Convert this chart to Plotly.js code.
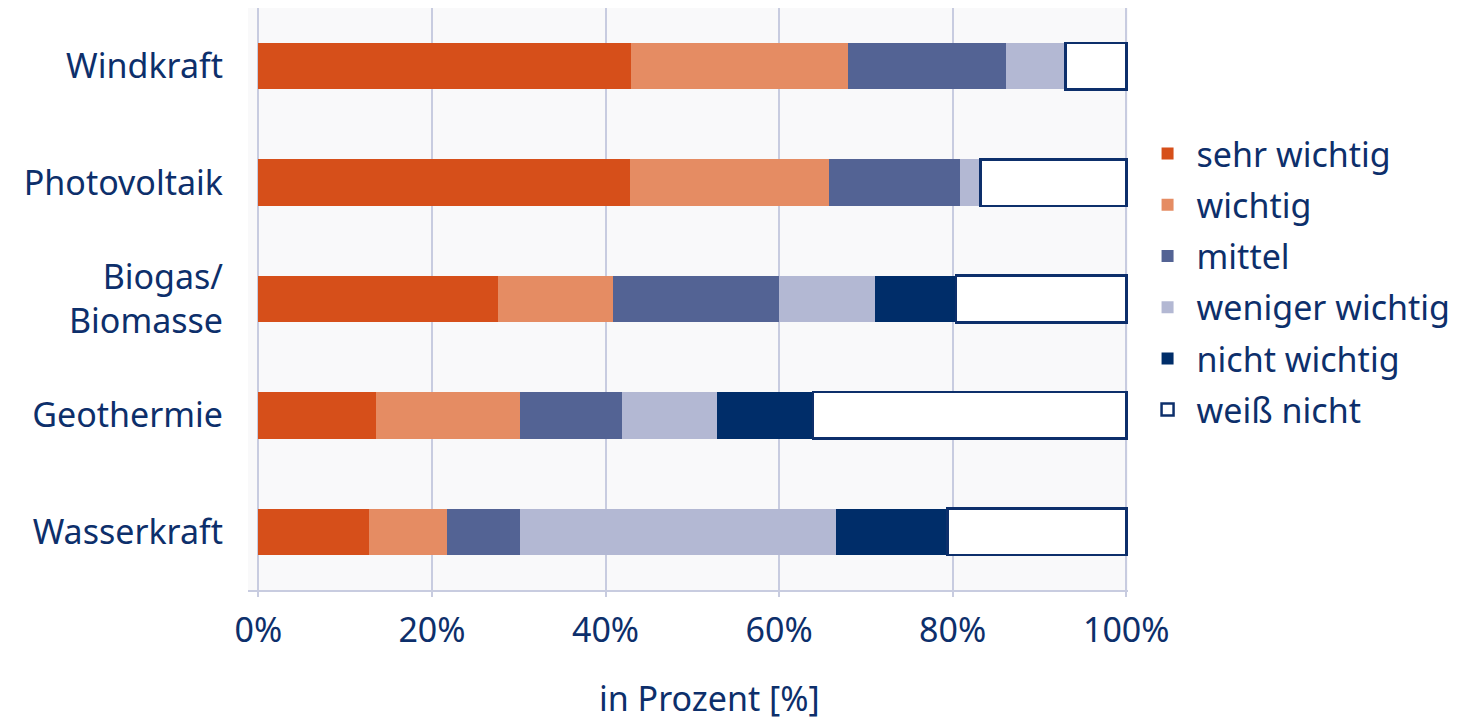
<!DOCTYPE html>
<html>
<head>
<meta charset="utf-8">
<script src="https://cdn.plot.ly/plotly-3.0.1.min.js"></script>
<style>html,body{margin:0;padding:0;background:#fff;}#chart{width:1476px;height:720px;}</style>
</head>
<body>
<div id="chart"></div>
<script>
const categories = ["Windkraft", "Photovoltaik", "Biogas/<br>Biomasse", "Geothermie", "Wasserkraft"];
const seriesNames = ["sehr wichtig", "wichtig", "mittel", "weniger wichtig", "nicht wichtig", "weiß nicht"];
const sehrWichtig   = [42.9, 42.8, 27.6, 13.6, 12.7];
const wichtig       = [25.0, 23.0, 13.3, 16.5,  9.0];
const mittel        = [18.2, 15.0, 19.1, 11.8,  8.4];
const wenigerWichtig= [ 6.9,  2.4, 11.0, 10.9, 36.5];
const nichtWichtig  = [ 0.0,  0.0,  9.4, 11.1, 12.8];
const weissNicht    = [ 7.0, 16.8, 19.6, 36.1, 20.6];
const tickValues = [0, 20, 40, 60, 80, 100];
const tickLabels = ["0%", "20%", "40%", "60%", "80%", "100%"];
const axisTitle = "in Prozent [%]";

const seriesValues = [sehrWichtig, wichtig, mittel, wenigerWichtig, nichtWichtig, weissNicht];
const colors = ["#d64f1a", "#e58c63", "#536394", "#b3b8d3", "#002d69", "#ffffff"];
const navy = "#0d2f6b";

const traces = seriesValues.map((vals, i) => ({
  type: "bar",
  orientation: "h",
  name: seriesNames[i],
  x: vals,
  y: categories,
  legendgroup: "g" + i,
  marker: {
    color: colors[i],
    line: i === 5 ? {color: navy, width: 2.5} : {width: 0}
  },
  hoverinfo: "x+name"
}));

const font = "Noto Sans, Open Sans, sans-serif";
const layout = {
  width: 1476, height: 720,
  margin: {l: 248, r: 348, t: 8, b: 130},
  barmode: "stack",
  bargap: 0.6,
  paper_bgcolor: "#ffffff",
  plot_bgcolor: "#f9f9fa",
  font: {family: font, color: navy, size: 34},
  showlegend: true,
  legend: {
    x: 1.012, y: 0.799, xanchor: "left", yanchor: "top",
    traceorder: "grouped", tracegroupgap: 4,
    itemwidth: 48,
    font: {family: font, size: 34, color: navy},
    bgcolor: "rgba(0,0,0,0)"
  },
  xaxis: {
    range: [-1.2, 100.2],
    tickvals: tickValues, ticktext: tickLabels,
    showgrid: true, gridcolor: "#c8cce0", gridwidth: 2,
    zeroline: false,
    showline: true, linecolor: "#c8cce0", linewidth: 2,
    ticks: "outside", ticklen: 5, tickcolor: "#c8cce0", tickwidth: 2,
    ticklabelstandoff: 4,
    tickfont: {family: font, size: 34, color: navy},
    fixedrange: true
  },
  yaxis: {
    range: [4.5, -0.5],
    type: "category",
    showgrid: false, zeroline: false, showline: false,
    ticks: "", ticklabelstandoff: 24,
    tickfont: {family: font, size: 34, color: navy},
    fixedrange: true
  },
  annotations: [{
    xref: "x", yref: "paper", x: 52, y: 0, yshift: -108,
    text: axisTitle, showarrow: false,
    xanchor: "center", yanchor: "middle",
    font: {family: font, size: 34, color: navy}
  }]
};

Plotly.newPlot("chart", traces, layout, {displayModeBar: false, staticPlot: true});
</script>
</body>
</html>
